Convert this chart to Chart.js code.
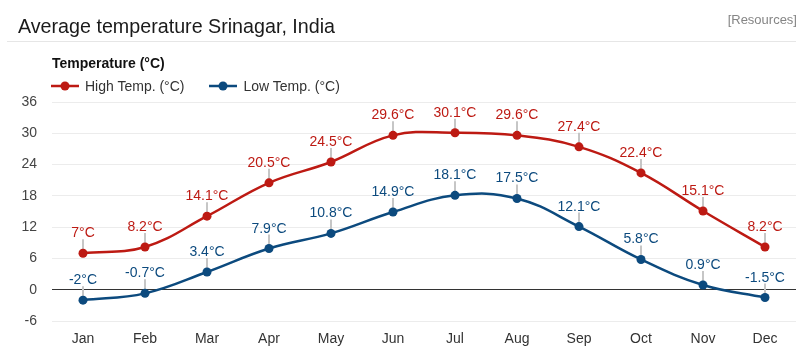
<!DOCTYPE html>
<html>
<head>
<meta charset="utf-8">
<script src="https://cdn.jsdelivr.net/npm/chart.js@4"></script>
<style>
  html, body { margin: 0; padding: 0; background: #fff; }
  #wrap { position: relative; width: 809px; height: 357px; overflow: hidden; font-family: 'Liberation Sans', Arial, sans-serif; }
  #c { position: absolute; left: 0; top: 0; }
  .t { position: absolute; white-space: nowrap; }
  #title { left: 18px; top: 16px; font-size: 19.7px; line-height: 20px; color: #1a1a1a; }
  #res { right: 12px; top: 13px; font-size: 13px; line-height: 13px; color: #858585; }
  #rule { position: absolute; left: 7px; top: 41px; width: 789px; height: 1px; background: #e6e6e6; }
  #ltitle { left: 52px; top: 56px; font-size: 14px; line-height: 14px; font-weight: bold; color: #111; }
  #legend { left: 51px; top: 79px; display: flex; gap: 25px; font-size: 14px; line-height: 14px; color: #333; }
  .item { display: flex; align-items: flex-start; }
  .item svg { margin-right: 6px; margin-top: 0px; }
</style>
</head>
<body>
<div id="wrap">
  <canvas id="c" width="809" height="357"></canvas>
  <div class="t" id="title">Average temperature Srinagar, India</div>
  <div class="t" id="res">[Resources]</div>
  <div id="rule"></div>
  <div class="t" id="ltitle">Temperature (°C)</div>
  <div class="t" id="legend"></div>
</div>
<script>
const categories = ['Jan', 'Feb', 'Mar', 'Apr', 'May', 'Jun', 'Jul', 'Aug', 'Sep', 'Oct', 'Nov', 'Dec'];
const highTemp = [7, 8.2, 14.1, 20.5, 24.5, 29.6, 30.1, 29.6, 27.4, 22.4, 15.1, 8.2];
const lowTemp = [-2, -0.7, 3.4, 7.9, 10.8, 14.9, 18.1, 17.5, 12.1, 5.8, 0.9, -1.5];
const seriesNames = ['High Temp. (°C)', 'Low Temp. (°C)'];
const seriesColors = ['#bd1a13', '#0c4a7e'];
const yTicks = [-6, 0, 6, 12, 18, 24, 30, 36];
const unit = '°C';

const FONT = "'Liberation Sans', Arial, sans-serif";
Chart.defaults.font.family = FONT;
Chart.defaults.font.size = 14;
Chart.defaults.color = '#444';

const labelPlugin = {
  id: 'pointLabels',
  beforeDatasetsDraw(chart) {
    const ctx = chart.ctx;
    ctx.save();
    ctx.strokeStyle = '#c6c6c6';
    ctx.lineWidth = 2;
    chart.data.datasets.forEach((ds, i) => {
      chart.getDatasetMeta(i).data.forEach(pt => {
        ctx.beginPath();
        ctx.moveTo(pt.x, pt.y - 14);
        ctx.lineTo(pt.x, pt.y);
        ctx.stroke();
      });
    });
    ctx.restore();
  },
  afterDatasetsDraw(chart) {
    const ctx = chart.ctx;
    ctx.save();
    ctx.font = '14px ' + FONT;
    ctx.textAlign = 'center';
    ctx.textBaseline = 'alphabetic';
    chart.data.datasets.forEach((ds, i) => {
      ctx.fillStyle = ds.borderColor;
      chart.getDatasetMeta(i).data.forEach((pt, j) => {
        ctx.fillText(ds.data[j] + unit, pt.x, pt.y - 16);
      });
    });
    ctx.restore();
  }
};

const chart = new Chart(document.getElementById('c'), {
  type: 'line',
  data: {
    labels: categories,
    datasets: [
      { label: seriesNames[0], data: highTemp, borderColor: seriesColors[0], backgroundColor: seriesColors[0],
        borderWidth: 2.5, pointRadius: 4.5, pointBorderWidth: 0, tension: 0.4, fill: false },
      { label: seriesNames[1], data: lowTemp, borderColor: seriesColors[1], backgroundColor: seriesColors[1],
        borderWidth: 2.5, pointRadius: 4.5, pointBorderWidth: 0, tension: 0.4, fill: false }
    ]
  },
  options: {
    responsive: false,
    animation: false,
    layout: { padding: { top: 102, right: 13, bottom: 0, left: 0 } },
    plugins: { legend: { display: false }, title: { display: false }, tooltip: { enabled: false } },
    scales: {
      x: {
        offset: true,
        grid: { display: false, drawTicks: false },
        border: { display: false },
        ticks: { padding: 10, color: '#333', font: { size: 14 } },
        afterFit(s) { s.height = 36; }
      },
      y: {
        min: yTicks[0], max: yTicks[yTicks.length - 1],
        afterBuildTicks(s) { s.ticks = yTicks.map(v => ({ value: v })); },
        grid: {
          drawTicks: false,
          color: c => (c.tick && c.tick.value === 0) ? '#333' : '#ececec',
          lineWidth: 1
        },
        border: { display: false },
        ticks: { padding: 15, color: '#444', font: { size: 14 } },
        afterFit(s) { s.width = 52; }
      }
    }
  },
  plugins: [labelPlugin]
});

// legend built from the chart's datasets
const leg = document.getElementById('legend');
chart.data.datasets.forEach(ds => {
  const item = document.createElement('div');
  item.className = 'item';
  const svgNS = 'http://www.w3.org/2000/svg';
  const svg = document.createElementNS(svgNS, 'svg');
  svg.setAttribute('width', '28'); svg.setAttribute('height', '14');
  const ln = document.createElementNS(svgNS, 'line');
  ln.setAttribute('x1', '0'); ln.setAttribute('x2', '28'); ln.setAttribute('y1', '7'); ln.setAttribute('y2', '7');
  ln.setAttribute('stroke', ds.borderColor); ln.setAttribute('stroke-width', '2.5');
  const ci = document.createElementNS(svgNS, 'circle');
  ci.setAttribute('cx', '14'); ci.setAttribute('cy', '7'); ci.setAttribute('r', '4.5'); ci.setAttribute('fill', ds.borderColor);
  svg.appendChild(ln); svg.appendChild(ci);
  const sp = document.createElement('span');
  sp.textContent = ds.label;
  item.appendChild(svg); item.appendChild(sp);
  leg.appendChild(item);
});
</script>
</body>
</html>
